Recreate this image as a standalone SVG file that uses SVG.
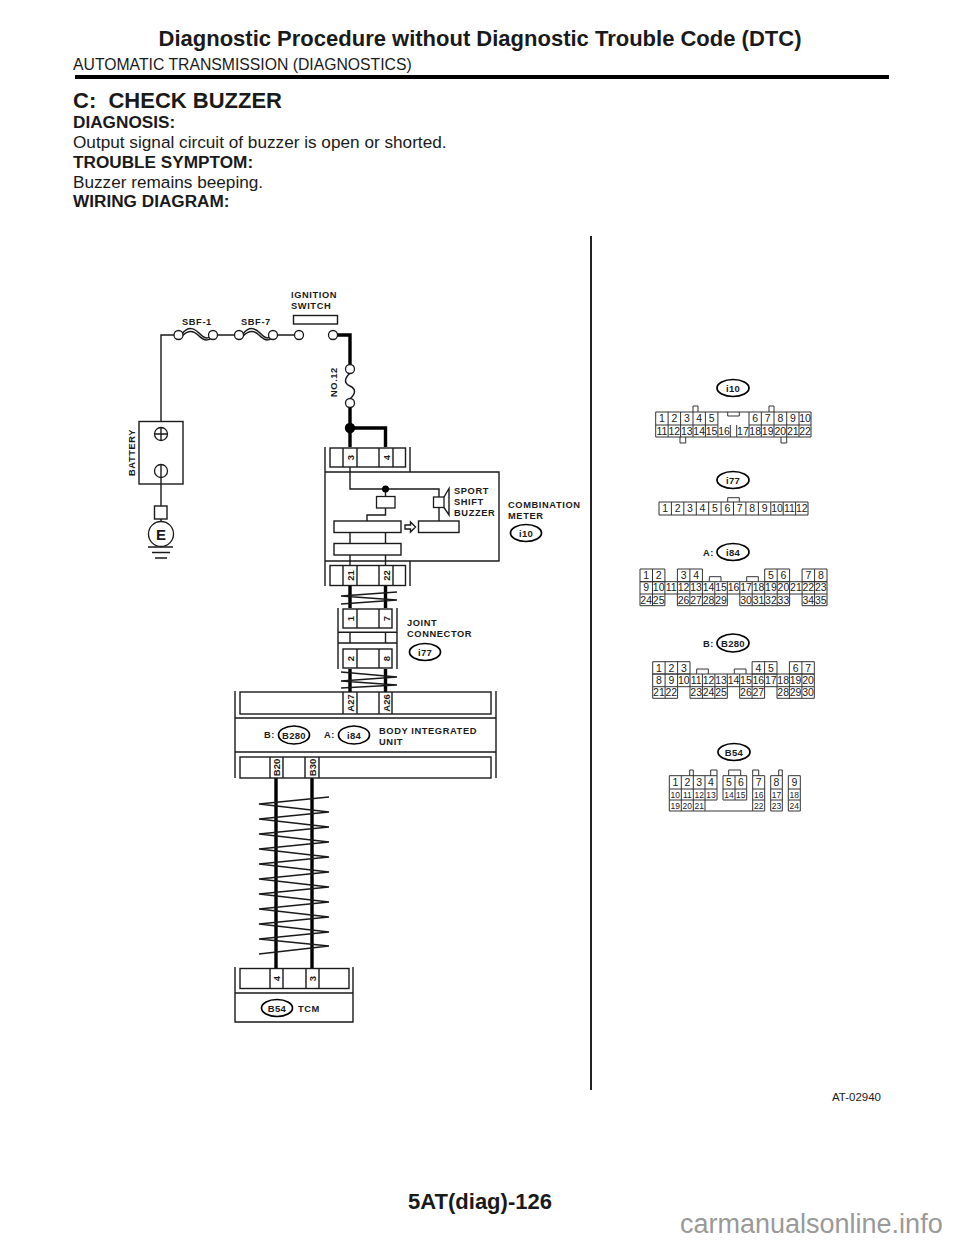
<svg xmlns="http://www.w3.org/2000/svg" width="960" height="1242" viewBox="0 0 960 1242">
<style>
text{font-family:"Liberation Sans",Arial,sans-serif;fill:#1a1a1a}
.h1{font-weight:bold;font-size:22px}
.sub{font-size:15.76px}
.h2{font-weight:bold;font-size:22px;white-space:pre}
.b{font-weight:bold;font-size:17.2px}
.p{font-size:17.2px}
.l{font-weight:bold;font-size:9.3px;letter-spacing:.6px}
.r{font-weight:bold;font-size:9.5px;text-anchor:middle;dominant-baseline:central}
.o{font-weight:bold;font-size:9.5px;text-anchor:middle;letter-spacing:.3px}
.n{font-size:10.5px;text-anchor:middle}
.s{font-size:8.5px;text-anchor:middle}
.w,.k,.t,.g,.tip,.box{fill:none}
.w{stroke:#1a1a1a;stroke-width:1.4}
.k{stroke:#000;stroke-width:3.4}
.t{stroke:#1a1a1a;stroke-width:1.5;stroke-linejoin:miter}
.box{stroke:#1a1a1a;stroke-width:1.4}
.g{stroke:#333;stroke-width:1}
.c{fill:#fff;stroke:#1a1a1a;stroke-width:1.3}
.ov{fill:#fff;stroke:#000;stroke-width:1.7}
.d{fill:#000}
</style>

<g id="page-text">
<text class="h1" x="480" y="45.500" text-anchor="middle">Diagnostic Procedure without Diagnostic Trouble Code (DTC)</text>
<text class="sub" x="73" y="70">AUTOMATIC TRANSMISSION (DIAGNOSTICS)</text>
<rect x="75" y="75" width="814" height="4" fill="#000"/>
<text class="h2" x="73" y="108" xml:space="preserve">C:  CHECK BUZZER</text>
<text class="b" x="73" y="128">DIAGNOSIS:</text>
<text class="p" x="73" y="148">Output signal circuit of buzzer is open or shorted.</text>
<text class="b" x="73" y="168">TROUBLE SYMPTOM:</text>
<text class="p" x="73" y="187.500">Buzzer remains beeping.</text>
<text class="b" x="73" y="207">WIRING DIAGRAM:</text>
<text class="h1" x="480" y="1209" text-anchor="middle">5AT(diag)-126</text>
<text x="832" y="1101" font-size="11.5">AT-02940</text>
<text x="680" y="1233" font-size="27" style="fill:#999">carmanualsonline.info</text>
<rect x="590" y="236" width="2" height="854" fill="#222"/>
</g>

<g id="connectors">
<path class="w" d="M161 421V335H178M213 335H239M273 335H299M161 484V506M161 519V522"/>
<path class="k" d="M333 335H350V369M350 403V447M350 428H385.500V447M350 585V608M385.500 585V608M350 669V692M385.500 669V692M276 778V968M312 778V968"/>
<path class="w" d="M350 467V489H439V497M385.500 489V496M385.500 508V515H367V521M439 507V521M350 532V543M385.500 532V543M350 555V565M385.500 555V565M350 632V643M385.500 632V643"/>
<circle class="d" cx="350" cy="428" r="5.200"/>
<circle class="d" cx="385.500" cy="489" r="3.500"/>
<path class="t" d="M397 592L341 596L397 600L341 604"/>
<path class="t" d="M341 672L397 677L341 681L397 685L341 688"/>
<path class="t" d="M329 797L259 804L329 812L259 819L329 827L259 834L329 842L259 849L329 857L259 864L329 872L259 879L329 887L259 894L329 902L259 909L329 917L259 924L329 932L259 939L329 946L259 954"/>
</g>

<g id="sbf-1">
<path class="t" d="M182 334C188 326 194 328 199 333S207 340 213 335M182 336C188 330 193 330 198 335S207 342 213 337"/>
<circle class="c" cx="178.500" cy="335" r="4.500"/><circle class="c" cx="213" cy="335" r="4.500"/>
<text class="l" x="182" y="324.500">SBF-1</text>
</g>
<g id="sbf-7">
<path class="t" d="M243 334C249 326 255 328 260 333S268 340 273 335M243 336C249 330 254 330 259 335S268 342 273 337"/>
<circle class="c" cx="239" cy="335" r="4.500"/><circle class="c" cx="273" cy="335" r="4.500"/>
<text class="l" x="241" y="324.500">SBF-7</text>
</g>
<g id="ignition-switch">
<rect class="box" x="293.500" y="315.500" width="44" height="8.500"/>
<circle class="c" cx="299" cy="335" r="4.500"/><circle class="c" cx="333" cy="335" r="4.500"/>
<text class="l" x="291" y="298">IGNITION</text>
<text class="l" x="291" y="309">SWITCH</text>
</g>
<g id="fuse-no12">
<path class="t" d="M350 373C344 379 344 383 350 386S356 393 350 399"/>
<circle class="c" cx="350" cy="369" r="4.500"/><circle class="c" cx="350" cy="403" r="4.500"/>
<text class="l" transform="rotate(-90 337 397)" x="337" y="397">NO.12</text>
</g>
<g id="battery">
<rect class="box" x="139" y="421.500" width="44" height="62.500"/>
<circle class="c" cx="161" cy="434" r="6.500"/>
<path class="w" d="M155 434H167M161 428V440"/>
<circle class="c" cx="161" cy="471" r="6.500"/>
<path class="w" d="M161 464.500V484"/>
<text class="l" transform="rotate(-90 134.500 476)" x="134.500" y="476">BATTERY</text>
</g>
<g id="ground-e">
<rect class="box" x="154.500" y="506" width="12.500" height="13"/>
<circle class="c" cx="161" cy="534" r="12.500"/>
<text x="161" y="539.500" font-size="15" font-weight="bold" text-anchor="middle">E</text>
<path class="w" d="M148 547H173M152 552.500H170M155 558H167"/>
</g>

<g id="combination-meter">
<path class="box" d="M325 447V586M410 447V472M325 472H499V561H325M410 561V586"/>
<rect class="box" x="330" y="448" width="75.500" height="19"/>
<path class="box" d="M343 448V467M357 448V467M379 448V467M393 448V467"/>
<text class="r" transform="rotate(-90 350 457.500)" x="350" y="457.500">3</text>
<text class="r" transform="rotate(-90 386 457.500)" x="386" y="457.500">4</text>
<rect class="box" x="330" y="565.500" width="75.500" height="20"/>
<path class="box" d="M343 565.500V585.500M357 565.500V585.500M379 565.500V585.500M393 565.500V585.500"/>
<text class="r" transform="rotate(-90 350 575.500)" x="350" y="575.500">21</text>
<text class="r" transform="rotate(-90 386 575.500)" x="386" y="575.500">22</text>
<rect class="c" x="376.500" y="496.500" width="18.500" height="11.500"/>
<rect class="box" x="334" y="521" width="67" height="11.500"/>
<rect class="box" x="418.500" y="521" width="40.500" height="11.500"/>
<rect class="box" x="334" y="543.500" width="67" height="11.500"/>
<path class="box" d="M405 525H410.500V522L415.500 527L410.500 532V529H405Z"/>
<rect class="c" x="433.500" y="497" width="10.500" height="10.500"/>
<path class="box" d="M444 497L449 488.500V515L444 507.500"/>
<text class="l" x="454" y="494">SPORT</text>
<text class="l" x="454" y="505">SHIFT</text>
<text class="l" x="454" y="516">BUZZER</text>
<text class="l" x="508" y="507.500">COMBINATION</text>
<text class="l" x="508" y="518.500">METER</text>
<ellipse class="ov" cx="526" cy="533" rx="15.500" ry="8.500"/>
<text class="o" x="526" y="536.500">i10</text>
</g>

<g id="joint-connector">
<path class="box" d="M338 608V669M397 608V669M338 632.300H397M338 643H397"/>
<rect class="box" x="343" y="609" width="49" height="19"/>
<path class="box" d="M357 609V628M379 609V628"/>
<rect class="box" x="343" y="649" width="49" height="19"/>
<path class="box" d="M357 649V668M379 649V668"/>
<text class="r" transform="rotate(-90 350 618.500)" x="350" y="618.500">1</text>
<text class="r" transform="rotate(-90 386 618.500)" x="386" y="618.500">7</text>
<text class="r" transform="rotate(-90 350 658.500)" x="350" y="658.500">2</text>
<text class="r" transform="rotate(-90 386 658.500)" x="386" y="658.500">8</text>
<text class="l" x="407" y="626">JOINT</text>
<text class="l" x="407" y="637">CONNECTOR</text>
<ellipse class="ov" cx="425" cy="652" rx="15.500" ry="8.500"/>
<text class="o" x="425" y="655.500">i77</text>
</g>

<g id="body-integrated-unit">
<path class="box" d="M235 691V778M496 691V778M235 718H496M235 752H496"/>
<rect class="box" x="240" y="692" width="251" height="22"/>
<path class="box" d="M343 692V714M357 692V714M379 692V714M392 692V714"/>
<rect class="box" x="240" y="757" width="251" height="21"/>
<path class="box" d="M270 757V778M283 757V778M305 757V778M319 757V778"/>
<text class="r" transform="rotate(-90 350 703)" x="350" y="703">A27</text>
<text class="r" transform="rotate(-90 386 703)" x="386" y="703">A26</text>
<text class="r" transform="rotate(-90 276.500 767.500)" x="276.500" y="767.500">B20</text>
<text class="r" transform="rotate(-90 312 767.500)" x="312" y="767.500">B30</text>
<text class="l" x="264" y="738">B:</text>
<ellipse class="ov" cx="294" cy="735" rx="15.500" ry="9"/>
<text class="o" x="294" y="738.500">B280</text>
<text class="l" x="324" y="738">A:</text>
<ellipse class="ov" cx="354" cy="735" rx="15.500" ry="9"/>
<text class="o" x="354" y="738.500">i84</text>
<text class="l" x="379" y="734">BODY INTEGRATED</text>
<text class="l" x="379" y="745">UNIT</text>
</g>

<g id="tcm">
<path class="box" d="M235 967V1022H353V967M235 993H353"/>
<rect class="box" x="240" y="968.500" width="109" height="20"/>
<path class="box" d="M270 968.500V988.500M283 968.500V988.500M306 968.500V988.500M319 968.500V988.500"/>
<text class="r" transform="rotate(-90 276.500 978.500)" x="276.500" y="978.500">4</text>
<text class="r" transform="rotate(-90 312.500 978.500)" x="312.500" y="978.500">3</text>
<ellipse class="ov" cx="277" cy="1008" rx="15.500" ry="8.500"/>
<text class="o" x="277" y="1011.500">B54</text>
<text class="l" x="298" y="1011.500">TCM</text>
</g>

<g id="plug-i10">
<ellipse class="ov" cx="733" cy="388" rx="16" ry="8.500"/>
<text class="o" x="733" y="391.500">i10</text>
<path class="g" d="M655.700 412H811V437H655.700ZM655.700 425H717.900M749 425H811M668.100 412V437M680.600 412V437M693 412V437M705.400 412V437M717.900 412V437M730.300 425V437M736.700 425V437M749 412V437M761.300 412V437M774 412V437M786.700 412V437M799 412V437M693 412V406H698V412M769 412V406H774V412M727.700 412V416H739.300V412M680 437V443H685.700V437M781 437V443H786.700V437"/>
<text class="n" x="661.900" y="422">1</text><text class="n" x="674.300" y="422">2</text><text class="n" x="686.800" y="422">3</text><text class="n" x="699.200" y="422">4</text><text class="n" x="711.600" y="422">5</text><text class="n" x="755.200" y="422">6</text><text class="n" x="767.700" y="422">7</text><text class="n" x="780.300" y="422">8</text><text class="n" x="792.800" y="422">9</text><text class="n" x="805" y="422">10</text>
<text class="n" x="661.900" y="435">11</text><text class="n" x="674.300" y="435">12</text><text class="n" x="686.800" y="435">13</text><text class="n" x="699.200" y="435">14</text><text class="n" x="711.600" y="435">15</text><text class="n" x="724.100" y="435">16</text><text class="n" x="742.900" y="435">17</text><text class="n" x="755.200" y="435">18</text><text class="n" x="767.700" y="435">19</text><text class="n" x="780.300" y="435">20</text><text class="n" x="792.800" y="435">21</text><text class="n" x="805" y="435">22</text>
</g>

<g id="plug-i77">
<ellipse class="ov" cx="733" cy="480" rx="16" ry="8.500"/>
<text class="o" x="733" y="483.500">i77</text>
<path class="g" d="M659 502H808V515H659ZM671.400 502V515M683.800 502V515M696.300 502V515M708.700 502V515M721.100 502V515M733.500 502V515M745.900 502V515M758.400 502V515M770.800 502V515M783.200 502V515M795.600 502V515M727.700 502V497.700H739.300V502"/>
<text class="n" x="665.200" y="512">1</text><text class="n" x="677.600" y="512">2</text><text class="n" x="690" y="512">3</text><text class="n" x="702.400" y="512">4</text><text class="n" x="714.900" y="512">5</text><text class="n" x="727.300" y="512">6</text><text class="n" x="739.700" y="512">7</text><text class="n" x="752.100" y="512">8</text><text class="n" x="764.600" y="512">9</text><text class="n" x="777" y="512">10</text><text class="n" x="789.400" y="512">11</text><text class="n" x="801.800" y="512">12</text>
</g>

<g id="plug-i84">
<text class="l" x="703" y="555.500">A:</text>
<ellipse class="ov" cx="733" cy="552" rx="16" ry="8.500"/>
<text class="o" x="733" y="555.500">i84</text>
<path class="g" d="M640 569H664.900V581.700H640ZM652.500 569V581.700M677.400 569H702.400V581.700H677.400ZM689.900 569V581.700M764.700 569H789.600V581.700H764.700ZM777.200 569V581.700M802.100 569H827V581.700H802.100ZM814.600 569V581.700M640 581.700H827V594H640ZM652.500 581.700V594M664.900 581.700V594M677.400 581.700V594M689.900 581.700V594M702.400 581.700V594M714.800 581.700V594M727.300 581.700V594M739.800 581.700V594M752.200 581.700V594M764.700 581.700V594M777.200 581.700V594M789.600 581.700V594M802.100 581.700V594M814.600 581.700V594M640 594V605.700H664.900V594M652.500 594V605.700M677.400 594V605.700H727.300V594M689.900 594V605.700M702.400 594V605.700M714.800 594V605.700M739.800 594V605.700H789.600V594M752.200 594V605.700M764.700 594V605.700M777.200 594V605.700M802.100 594V605.700H827V594M814.600 594V605.700M709.300 581.700V576.700H721V581.700M746.700 581.700V576.700H758.300V581.700"/>
<text class="n" x="646.200" y="579.300">1</text><text class="n" x="658.700" y="579.300">2</text><text class="n" x="683.600" y="579.300">3</text><text class="n" x="696.100" y="579.300">4</text><text class="n" x="770.900" y="579.300">5</text><text class="n" x="783.400" y="579.300">6</text><text class="n" x="808.300" y="579.300">7</text><text class="n" x="820.800" y="579.300">8</text>
<text class="n" x="646.200" y="591.300">9</text><text class="n" x="658.700" y="591.300">10</text><text class="n" x="671.200" y="591.300">11</text><text class="n" x="683.600" y="591.300">12</text><text class="n" x="696.100" y="591.300">13</text><text class="n" x="708.600" y="591.300">14</text><text class="n" x="721" y="591.300">15</text><text class="n" x="733.500" y="591.300">16</text><text class="n" x="746" y="591.300">17</text><text class="n" x="758.500" y="591.300">18</text><text class="n" x="770.900" y="591.300">19</text><text class="n" x="783.400" y="591.300">20</text><text class="n" x="795.900" y="591.300">21</text><text class="n" x="808.300" y="591.300">22</text><text class="n" x="820.800" y="591.300">23</text>
<text class="n" x="646.200" y="604">24</text><text class="n" x="658.700" y="604">25</text><text class="n" x="683.600" y="604">26</text><text class="n" x="696.100" y="604">27</text><text class="n" x="708.600" y="604">28</text><text class="n" x="721" y="604">29</text><text class="n" x="746" y="604">30</text><text class="n" x="758.500" y="604">31</text><text class="n" x="770.900" y="604">32</text><text class="n" x="783.400" y="604">33</text><text class="n" x="808.300" y="604">34</text><text class="n" x="820.800" y="604">35</text>
</g>

<g id="plug-b280">
<text class="l" x="703" y="647">B:</text>
<ellipse class="ov" cx="733" cy="643" rx="16" ry="9"/>
<text class="o" x="733" y="646.500">B280</text>
<path class="g" d="M652.700 661.700H690V674H652.700ZM665.100 661.700V674M677.600 661.700V674M752.100 661.700H777V674H752.100ZM764.600 661.700V674M789.400 661.700H814.300V674H789.400ZM801.900 661.700V674M652.700 674H814.300V686.700H652.700ZM665.100 674V686.700M677.600 674V686.700M690 674V686.700M702.400 674V686.700M714.900 674V686.700M727.300 674V686.700M739.700 674V686.700M752.100 674V686.700M764.600 674V686.700M777 674V686.700M789.400 674V686.700M801.900 674V686.700M652.700 686.700V698.300H677.600V686.700M665.100 686.700V698.300M690 686.700V698.300H727.300V686.700M702.400 686.700V698.300M714.900 686.700V698.300M739.700 686.700V698.300H764.600V686.700M752.100 686.700V698.300M777 686.700V698.300H814.300V686.700M789.400 686.700V698.300M801.900 686.700V698.300M696.700 674V669H708.300V674M734.300 674V669H746V674"/>
<text class="n" x="658.900" y="671.600">1</text><text class="n" x="671.300" y="671.600">2</text><text class="n" x="683.800" y="671.600">3</text><text class="n" x="758.300" y="671.600">4</text><text class="n" x="770.800" y="671.600">5</text><text class="n" x="795.600" y="671.600">6</text><text class="n" x="808.100" y="671.600">7</text>
<text class="n" x="658.900" y="684">8</text><text class="n" x="671.300" y="684">9</text><text class="n" x="683.800" y="684">10</text><text class="n" x="696.200" y="684">11</text><text class="n" x="708.600" y="684">12</text><text class="n" x="721.100" y="684">13</text><text class="n" x="733.500" y="684">14</text><text class="n" x="745.900" y="684">15</text><text class="n" x="758.300" y="684">16</text><text class="n" x="770.800" y="684">17</text><text class="n" x="783.200" y="684">18</text><text class="n" x="795.600" y="684">19</text><text class="n" x="808.100" y="684">20</text>
<text class="n" x="658.900" y="696">21</text><text class="n" x="671.300" y="696">22</text><text class="n" x="696.200" y="696">23</text><text class="n" x="708.600" y="696">24</text><text class="n" x="721.100" y="696">25</text><text class="n" x="745.900" y="696">26</text><text class="n" x="758.300" y="696">27</text><text class="n" x="783.200" y="696">28</text><text class="n" x="795.600" y="696">29</text><text class="n" x="808.100" y="696">30</text>
</g>

<g id="plug-b54">
<ellipse class="ov" cx="734" cy="752" rx="16" ry="8.500"/>
<text class="o" x="734" y="755.500">B54</text>
<path class="g" d="M669.300 775.700H717V800H669.300ZM669.300 789H717M669.300 800V811M681.300 775.700V811M693.300 775.700V811M705 775.700V811M669.300 811H752.700M723 775.700H746.700V800H723ZM723 789H746.700M735 775.700V800M752.700 775.700H764.700V811H752.700ZM752.700 789H764.700M752.700 800H764.700M770.700 775.700H782.300V811H770.700ZM770.700 789H782.300M770.700 800H782.300M788.300 775.700H800.300V811H788.300ZM788.300 789H800.300M788.300 800H800.300M689.700 775.700V770H693.300V775.700M710.700 775.700V770H717V775.700M728.700 775.700V770H740.700V775.700M752.700 775.700V770H758.700V775.700M778.700 775.700V770H782.300V775.700"/>
<text class="n" x="675.300" y="786">1</text><text class="n" x="687.300" y="786">2</text><text class="n" x="699.200" y="786">3</text><text class="n" x="711" y="786">4</text><text class="n" x="729" y="786">5</text><text class="n" x="740.800" y="786">6</text><text class="n" x="758.700" y="786">7</text><text class="n" x="776.500" y="786">8</text><text class="n" x="794.300" y="786">9</text>
<text class="s" x="675.300" y="797.500">10</text><text class="s" x="687.300" y="797.500">11</text><text class="s" x="699.200" y="797.500">12</text><text class="s" x="711" y="797.500">13</text><text class="s" x="729" y="797.500">14</text><text class="s" x="740.800" y="797.500">15</text><text class="s" x="758.700" y="797.500">16</text><text class="s" x="776.500" y="797.500">17</text><text class="s" x="794.300" y="797.500">18</text>
<text class="s" x="675.300" y="809">19</text><text class="s" x="687.300" y="809">20</text><text class="s" x="699.200" y="809">21</text><text class="s" x="758.700" y="809">22</text><text class="s" x="776.500" y="809">23</text><text class="s" x="794.300" y="809">24</text>
</g>
</svg>
